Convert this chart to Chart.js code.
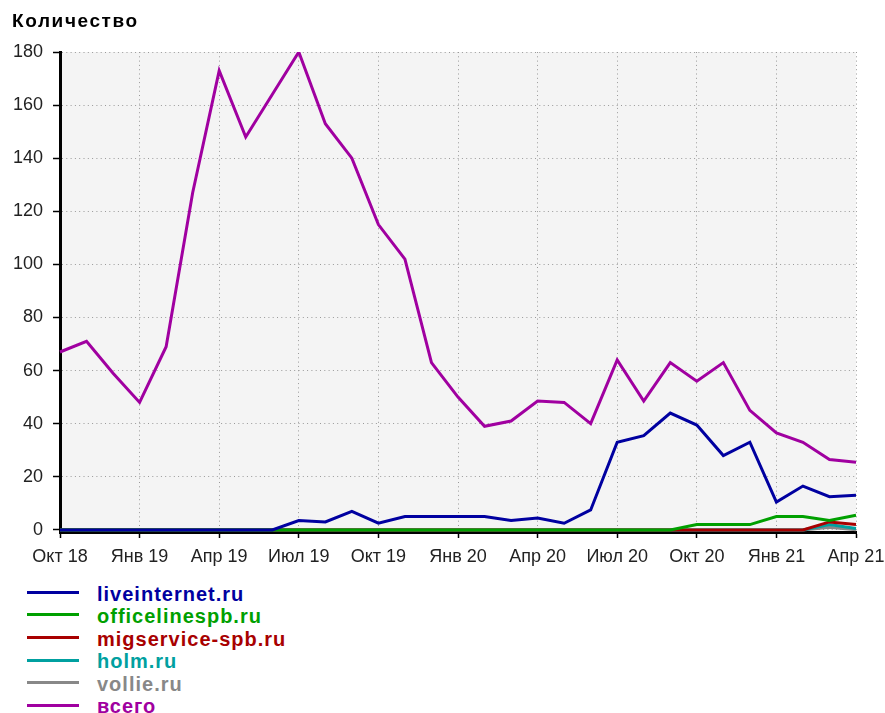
<!DOCTYPE html>
<html>
<head>
<meta charset="utf-8">
<script src="https://cdn.jsdelivr.net/npm/chart.js@4.4.1/dist/chart.umd.min.js"></script>
<style>
  body { margin: 0; background: #fff; }
  #wrap { position: relative; width: 885px; height: 713px; }
  #chart { position: absolute; left: 0; top: 0; }
  #title {
    position: absolute; left: 12px; top: 10.5px;
    font: bold 19px "Liberation Sans", Arial, sans-serif;
    letter-spacing: 1.6px; line-height: 19px; color: #000;
  }
  #legend {
    position: absolute; left: 27px; top: 581px;
    font: bold 20px "Liberation Sans", Arial, sans-serif;
    letter-spacing: 1px;
  }
  .row { display: flex; align-items: center; height: 22.6px; }
  .swatch { width: 52px; height: 3px; margin-right: 18px; }
  .row span { position: relative; top: 1.5px; line-height: 22.6px; }
</style>
</head>
<body>
<div id="wrap">
  <canvas id="chart" width="885" height="575"></canvas>
  <div id="title">Количество</div>
  <div id="legend"></div>
</div>
<script>
// месяцы, Окт 18 - Апр 21
const months = [
  "Окт 18", "Ноя 18", "Дек 18", "Янв 19", "Фев 19", "Мар 19", "Апр 19", "Май 19",
  "Июн 19", "Июл 19", "Авг 19", "Сен 19", "Окт 19", "Ноя 19", "Дек 19", "Янв 20",
  "Фев 20", "Мар 20", "Апр 20", "Май 20", "Июн 20", "Июл 20", "Авг 20", "Сен 20",
  "Окт 20", "Ноя 20", "Дек 20", "Янв 21", "Фев 21", "Мар 21", "Апр 21"
];

const yTicks = [0, 20, 40, 60, 80, 100, 120, 140, 160, 180];

const liveinternet = [
  0, 0, 0, 0, 0, 0, 0, 0, 0, 3.5, 3, 7, 2.5, 5, 5, 5,
  5, 3.5, 4.5, 2.5, 7.5, 33, 35.5, 44, 39.5, 28, 33, 10.5, 16.5, 12.5, 13
];
const officelinespb = [
  0, 0, 0, 0, 0, 0, 0, 0, 0, 0, 0, 0, 0, 0, 0, 0,
  0, 0, 0, 0, 0, 0, 0, 0, 2, 2, 2, 5, 5, 3.5, 5.5
];
const migservice = [
  0, 0, 0, 0, 0, 0, 0, 0, 0, 0, 0, 0, 0, 0, 0, 0,
  0, 0, 0, 0, 0, 0, 0, 0, 0, 0, 0, 0, 0, 3, 2
];
const holm = [
  0, 0, 0, 0, 0, 0, 0, 0, 0, 0, 0, 0, 0, 0, 0, 0,
  0, 0, 0, 0, 0, 0, 0, 0, 0, 0, 0, 0, 0, 2, 0.5
];
const vollie = [
  0, 0, 0, 0, 0, 0, 0, 0, 0, 0, 0, 0, 0, 0, 0, 0,
  0, 0, 0, 0, 0, 0, 0, 0, 0, 0, 0, 0, 0, 1, 0
];
const total = [
  67, 71, 59, 48, 69, 127, 173, 148, 164, 180, 153, 140, 115, 102, 63, 50,
  39, 41, 48.5, 48, 40, 64, 48.5, 63, 56, 63, 45, 36.5, 33, 26.5, 25.5
];

const series = [
  { label: "liveinternet.ru", data: liveinternet, color: "#0000a0" },
  { label: "officelinespb.ru", data: officelinespb, color: "#00a000" },
  { label: "migservice-spb.ru", data: migservice, color: "#a80000" },
  { label: "holm.ru", data: holm, color: "#00a0a0" },
  { label: "vollie.ru", data: vollie, color: "#888888" },
  { label: "всего", data: total, color: "#a000a0" }
];

Chart.defaults.font.family = '"Liberation Sans", Arial, sans-serif';

const plotBackground = {
  id: "plotBackground",
  beforeDraw(chart) {
    const { ctx, chartArea: a } = chart;
    ctx.save();
    ctx.fillStyle = "#f4f4f4";
    ctx.fillRect(a.left, a.top, a.right - a.left, a.bottom - a.top);
    ctx.restore();
  }
};

const gridOpts = {
  color: "#999",
  lineWidth: 1,
  tickColor: "#000",
  tickWidth: 1.5,
  tickBorderDash: []
};

const chart = new Chart(document.getElementById("chart"), {
  type: "line",
  data: {
    labels: months,
    datasets: series.map(s => ({
      label: s.label,
      data: s.data,
      borderColor: s.color,
      backgroundColor: s.color,
      borderWidth: 3,
      pointRadius: 0,
      tension: 0,
      fill: false
    }))
  },
  options: {
    responsive: false,
    animation: false,
    devicePixelRatio: 1,
    layout: { padding: { left: 0, right: 29, top: 52, bottom: 0 } },
    plugins: {
      legend: { display: false },
      tooltip: { enabled: false }
    },
    scales: {
      x: {
        grid: { ...gridOpts, tickLength: 6 },
        border: { color: "#000", width: 3, dash: [1, 3.3] },
        ticks: {
          autoSkip: false, maxRotation: 0, color: "#222",
          font: { size: 18 }, padding: 8
        },
        afterBuildTicks: s => { s.ticks = s.ticks.filter(t => t.value % 3 === 0); },
        afterFit: s => { s.height = 43; s.paddingLeft = 0; s.paddingRight = 0; }
      },
      y: {
        min: -0.8,
        max: 180,
        grid: { ...gridOpts, tickLength: 7 },
        border: { color: "#000", width: 3, dash: [1, 3.3] },
        ticks: { color: "#222", font: { size: 18 }, padding: 10 },
        afterBuildTicks: s => { s.ticks = yTicks.map(v => ({ value: v })); },
        afterFit: s => { s.width = 60; s.paddingTop = 0; s.paddingBottom = 0; }
      }
    }
  },
  plugins: [plotBackground]
});

const legend = document.getElementById("legend");
chart.data.datasets.forEach(ds => {
  legend.innerHTML += `
    <div class="row">
      <div class="swatch" style="background:${ds.borderColor}"></div>
      <span style="color:${ds.borderColor}">${ds.label}</span>
    </div>
  `;
});
</script>
</body>
</html>
